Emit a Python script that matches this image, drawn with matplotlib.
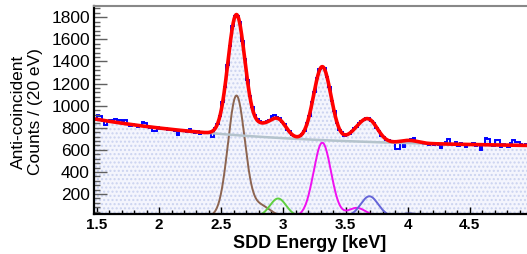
import numpy as np
import matplotlib
matplotlib.use("Agg")
import matplotlib.pyplot as plt
from matplotlib.ticker import MultipleLocator

plt.rcParams['font.family'] = ['Liberation Sans', 'DejaVu Sans']

# histogram: 20 eV bins starting at 1.48 keV
bin_start, bin_width = 1.48, 0.02
counts = [
    872, 912, 905, 860, 822, 858, 870, 852, 878, 869,
    866, 858, 872, 830, 812, 835, 822, 806, 829, 850,
    845, 806, 795, 770, 772, 808, 790, 787, 800, 782,
    793, 776, 770, 738, 782, 768, 779, 762, 790, 770,
    752, 770, 748, 755, 762, 751, 758, 712, 800, 832,
    905, 1030, 1170, 1372, 1540, 1720, 1815, 1812, 1755, 1585,
    1425, 1230, 1085, 990, 912, 875, 858, 845, 852, 862,
    872, 905, 918, 895, 888, 850, 830, 780, 768, 735,
    722, 712, 730, 748, 770, 845, 910, 1030, 1128, 1250,
    1330, 1345, 1340, 1258, 1170, 1040, 950, 845, 782, 760,
    728, 742, 744, 772, 795, 808, 845, 862, 870, 890,
    885, 858, 840, 796, 772, 730, 718, 690, 688, 672,
    670, 612, 605, 668, 625, 690, 688, 695, 708, 680,
    668, 675, 650, 666, 645, 662, 648, 660, 640, 620,
    650, 672, 698, 655, 640, 668, 632, 660, 645, 622,
    655, 640, 662, 632, 650, 598, 640, 705, 700, 648,
    636, 690, 690, 630, 655, 640, 625, 658, 690, 672,
    668, 650, 632, 650, 641,
]

# fit parameters
bg_const, bg_amp, bg_slope, bg_e0 = 620, 260, 0.73, 1.48
peak_groups = {
    'brown':   [(2.622, 1088, 0.068), (2.815, 95, 0.075)],
    'green':   [(2.957, 160, 0.065)],
    'magenta': [(3.313, 665, 0.070), (3.590, 75, 0.070)],
    'blue':    [(3.692, 180, 0.070)],
    'navy':    [(4.013, 25, 0.070)],
}
group_colors = {'brown': '#8c6450', 'green': '#5fcf3f', 'magenta': '#f010f0',
                'blue': '#6464d8', 'navy': '#4848a8'}

def background(e):
    return bg_const + bg_amp * np.exp(-bg_slope * (e - bg_e0))

def group_curve(e, name):
    return sum(a * np.exp(-0.5 * ((e - c) / s) ** 2) for c, a, s in peak_groups[name])

edges = bin_start + bin_width * np.arange(len(counts) + 1)

fig = plt.figure(figsize=(5.27, 2.54), dpi=100)
ax = fig.add_axes([94/527, 1-214.3/254, 433/527, 208.3/254])
ylo = 17
ax.set_xlim(1.476, 4.96)
ax.set_ylim(ylo, 1902)

ax.stairs(counts, edges, baseline=ylo, fill=True, facecolor='#f4f5fd',
          edgecolor='#cbd3f0', hatch='....', linewidth=0)
ax.stairs(counts, edges, color='#0000ff', linewidth=1.4)

e = np.linspace(1.476, 4.96, 1500)
for g in peak_groups:
    y = group_curve(e, g)
    y = np.where(y < 1, np.nan, np.maximum(y, ylo + 1))
    ax.plot(e, y, color=group_colors[g], linewidth=1.4)
ax.plot(e, background(e), color='#b4c3cc', linewidth=1.8)
fit = background(e) + sum(group_curve(e, g) for g in peak_groups)
ax.plot(e, fit, color='#ff0000', linewidth=2.6)

ax.set_yticks(np.arange(200, 1801, 200))
ax.yaxis.set_minor_locator(MultipleLocator(40))
xt = [1.5, 2, 2.5, 3, 3.5, 4, 4.5]
ax.set_xticks(xt)
ax.set_xticklabels([f'{v:g}' for v in xt], fontweight='bold')
ax.xaxis.set_minor_locator(MultipleLocator(0.1))
ax.tick_params(axis='y', which='major', direction='in', length=9, width=1, color='#606060',
               labelsize=12.5, pad=3)
ax.tick_params(axis='y', which='minor', direction='in', length=4.5, width=1, color='#606060')
ax.tick_params(axis='x', which='major', direction='in', length=5, width=1, labelsize=11, pad=3)
ax.tick_params(axis='x', which='minor', direction='in', length=3, width=1)
for s in ['left', 'bottom']:
    ax.spines[s].set_linewidth(1.6)
ax.spines['top'].set_color('#888888')
ax.spines['top'].set_linewidth(1.5)
ax.spines['right'].set_visible(False)

fig.text(27/527, 1-112/254, 'Anti-coincident\nCounts / (20 eV)', rotation=90,
         ha='center', va='center', fontsize=12.5, linespacing=1.1)
fig.text(310/527, 1-243/254, 'SDD Energy [keV]', ha='center', va='center',
         fontsize=13, fontweight='bold')

fig.savefig('out.png', dpi=100)
